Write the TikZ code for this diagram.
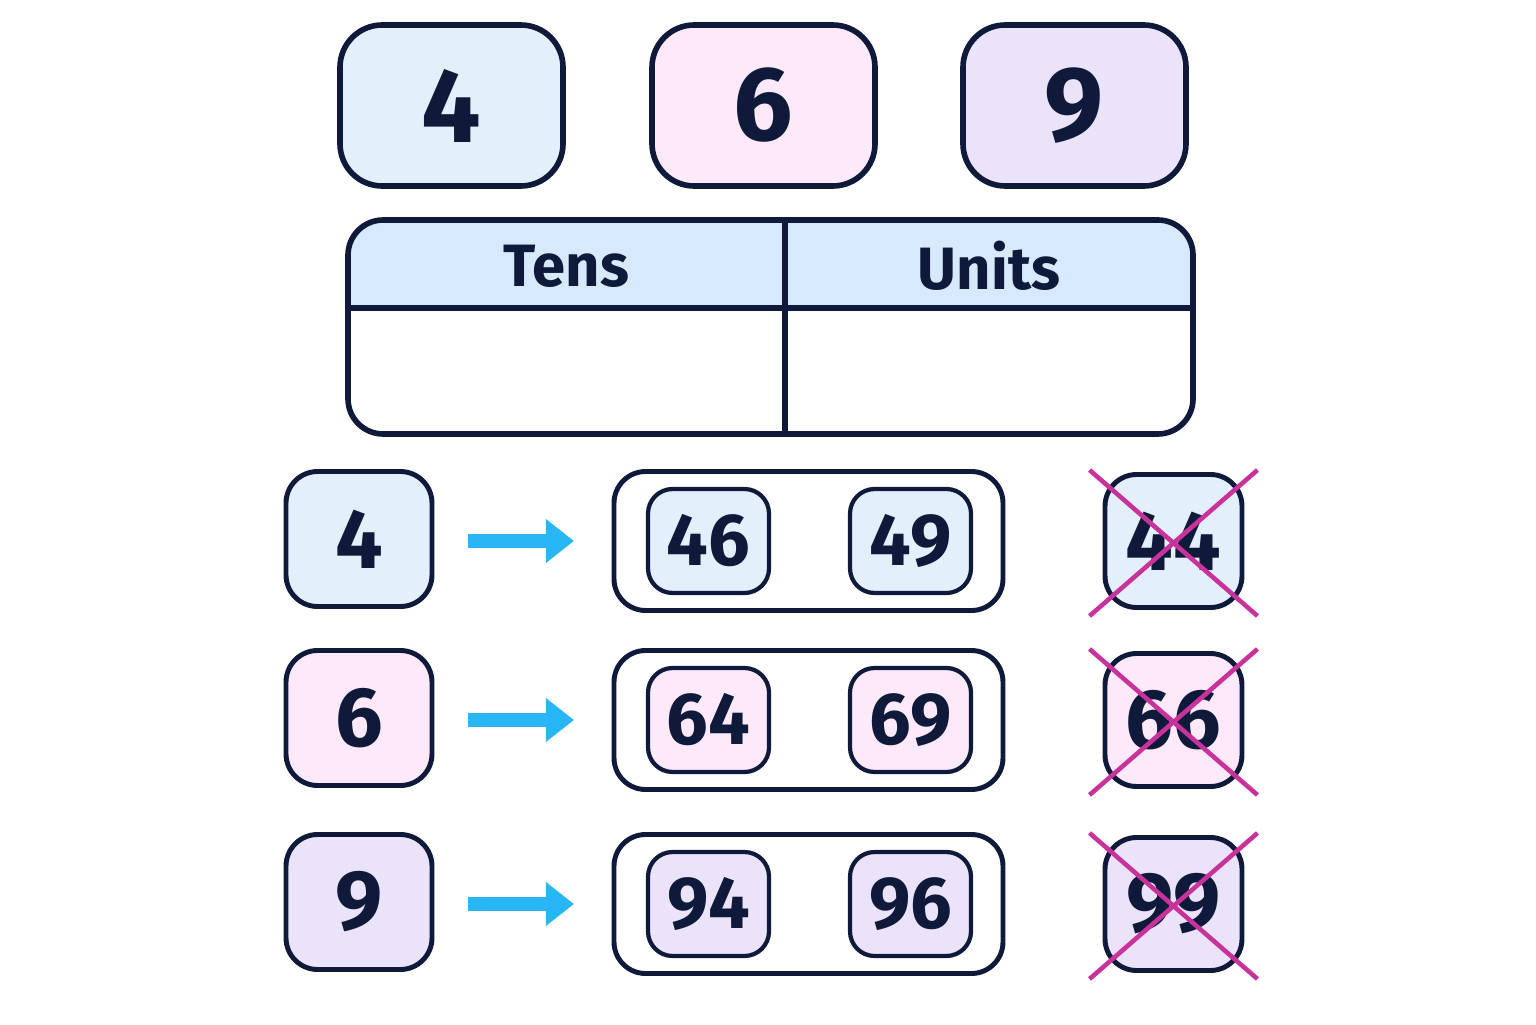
\documentclass[tikz,border=0pt]{standalone}
\usepackage{fontspec}
\setmainfont{Fira Sans}
\usetikzlibrary{positioning,calc,arrows.meta}
\definecolor{navy}{HTML}{0F1A3A}
\definecolor{cblue}{HTML}{E3F0FC}
\definecolor{cpink}{HTML}{FDE9FA}
\definecolor{clav}{HTML}{EAE3FA}
\definecolor{hdr}{HTML}{D6EAFB}
\definecolor{arr}{HTML}{29B6F6}
\definecolor{cross}{HTML}{C8329B}
\begin{document}
\begin{tikzpicture}[
        x=1cm, y=1cm,
        card/.style={rounded corners=12pt, draw=navy, line width=1.6pt, minimum width=2.23cm, minimum height=1.61cm, font=\fontsize{30}{30}\selectfont\bfseries, text=navy},
        digit/.style={rounded corners=9pt, draw=navy, line width=1.4pt, minimum width=1.46cm, minimum height=1.35cm, font=\fontsize{24}{24}\selectfont\bfseries, text=navy},
        pair/.style={rounded corners=9pt, draw=navy, line width=1.4pt, minimum width=3.89cm, minimum height=1.39cm},
        num/.style={rounded corners=7pt, draw=navy, line width=1.2pt, minimum width=1.21cm, minimum height=1.04cm, font=\fontsize{21}{21}\selectfont\bfseries, text=navy},
        pointer/.style={-{Triangle[length=8pt,width=12pt]}, draw=arr, line width=4pt},
        strike/.style={draw=cross, line width=1.3pt}
      ]
      \useasboundingbox (0,0) rectangle (15.36,10.24);
      % top cards
      \node[card, fill=cblue] (c4) at (4.515,9.185) {4};
      \node[card, fill=cpink] (c6) at (7.635,9.185) {6};
      \node[card, fill=clav]  (c9) at (10.745,9.185) {9};
      % table
      \fill[hdr, rounded corners=10pt] (3.48,8.04) rectangle (11.93,6.9);
      \fill[white] (3.50,7.16) rectangle (11.91,5.92);
      \draw[navy, line width=1.6pt, rounded corners=10pt] (3.48,8.04) rectangle (11.93,5.90);
      \draw[navy, line width=1.6pt] (3.48,7.16) -- (11.93,7.16);
      \draw[navy, line width=1.6pt] (7.85,8.04) -- (7.85,5.90);
      \node[font=\fontsize{17}{17}\selectfont\bfseries, text=navy] (tens) at (5.665,7.58) {Tens};
      \node[font=\fontsize{17}{17}\selectfont\bfseries, text=navy] (units) at (9.89,7.58) {Units};
      % rows
      \foreach \d/\a/\b/\x/\col/\y in {4/46/49/44/cblue/4.85, 6/64/69/66/cpink/3.06, 9/94/96/99/clav/1.22} {
        \node[digit, fill=\col] (d\d) at (3.59,\y) {\d};
        \node[pair] (p\d) at (8.085,\y-0.02) {};
        \node[num, fill=\col] (n\a) at (7.085,\y-0.02) {\a};
        \node[num, fill=\col] (n\b) at (9.105,\y-0.02) {\b};
        \coordinate (s\d) at (4.68,\y-0.02);
        \coordinate (e\d) at (5.74,\y-0.02);
        \draw[pointer] (s\d) -- (e\d);
        \node[digit, fill=\col, minimum width=1.37cm, minimum height=1.33cm] (x\x) at (11.735,\y-0.02) {\x};
        \draw[strike] ($(x\x.north west)+(-0.13,0.02)$) -- ($(x\x.south east)+(0.13,-0.06)$);
        \draw[strike] ($(x\x.north east)+(0.13,0.02)$) -- ($(x\x.south west)+(-0.13,-0.06)$);
      }
    \end{tikzpicture}
\end{document}
